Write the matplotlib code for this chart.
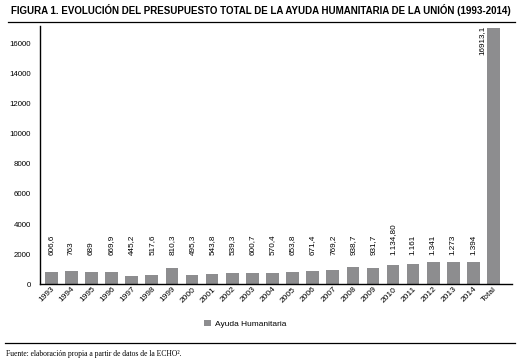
import matplotlib.pyplot as plt
from matplotlib.lines import Line2D
from matplotlib.patches import Patch
import matplotlib.transforms as mtransforms

years = ["1993", "1994", "1995", "1996", "1997", "1998", "1999", "2000", "2001",
         "2002", "2003", "2004", "2005", "2006", "2007", "2008", "2009", "2010",
         "2011", "2012", "2013", "2014", "Total"]
# bar heights as drawn in the picture
heights = [840, 900, 800, 800, 570, 640, 1080, 640, 690, 770, 770, 770, 840,
           900, 970, 1170, 1100, 1300, 1350, 1500, 1460, 1500, 17000]
# value labels printed above the bars
labels = ["606,6", "763", "689", "669,9", "445,2", "517,6", "810,3", "495,3",
          "543,8", "539,3", "600,7", "570,4", "653,8", "671,4", "769,2", "938,7",
          "931,7", "1.134,80", "1.161", "1.341", "1.273", "1.394", "16913,1"]
yticks = [0, 2000, 4000, 6000, 8000, 10000, 12000, 14000, 16000]

bar_color = "#8d8d8f"

fig = plt.figure(figsize=(5.22, 3.64), dpi=100)
ax = fig.add_axes([0.0766, 0.219, 0.9044, 0.7096])

x = list(range(len(years)))
ax.bar(x, heights, width=0.63, color=bar_color, zorder=2)

ax.set_xlim(-0.56, 22.92)
ax.set_ylim(0, 17150)
ax.set_yticks(yticks)
ax.set_yticklabels([str(v) for v in yticks], fontsize=5.7, family="Liberation Sans")
ax.tick_params(axis="y", length=0, pad=6.5)
ax.set_xticks(x)
ax.set_xticklabels(years, rotation=45, ha="center", va="top", fontsize=6,
                   family="Liberation Sans")
ax.tick_params(axis="x", length=0, pad=1)
shift = mtransforms.ScaledTranslation(-4 / 100, 0, fig.dpi_scale_trans)
for lab in ax.get_xticklabels():
    lab.set_transform(lab.get_transform() + shift)

for s in ["top", "right"]:
    ax.spines[s].set_visible(False)
for s in ["left", "bottom"]:
    ax.spines[s].set_linewidth(1.0)

# value labels
for i, lab in enumerate(labels[:-1]):
    ax.text(i, 1950, lab, rotation=90, ha="center", va="bottom", fontsize=5.9,
            family="Liberation Sans")
ax.text(len(labels) - 1.6, 17150, labels[-1], rotation=90, ha="center", va="top",
        fontsize=5.9, family="Liberation Sans")

# title and rules
fig.text(0.021, 0.972, "FIGURA 1. EVOLUCIÓN DEL PRESUPUESTO TOTAL DE LA AYUDA HUMANITARIA DE LA UNIÓN (1993-2014)",
         fontsize=7.0, fontweight="bold", family="Liberation Sans", va="center", ha="left")
fig.add_artist(Line2D([0.015, 0.987], [1 - 21.7 / 364] * 2, color="black", lw=0.9))
fig.add_artist(Line2D([0.01, 0.987], [1 - 342.7 / 364] * 2, color="black", lw=0.9))

# legend
fig.legend(handles=[Patch(facecolor=bar_color, label="Ayuda Humanitaria")],
           loc="center", bbox_to_anchor=(0.47, 1 - 324 / 364), frameon=False,
           prop={"family": "Liberation Sans", "size": 6},
           handlelength=0.8, handleheight=0.8, handletextpad=0.5)

fig.text(0.011, 1 - 354 / 364, "Fuente: elaboración propia a partir de datos de la ECHO²." ,
         fontsize=5.5, family="Liberation Serif", va="center", ha="left")

plt.savefig("out.png", dpi=100)
